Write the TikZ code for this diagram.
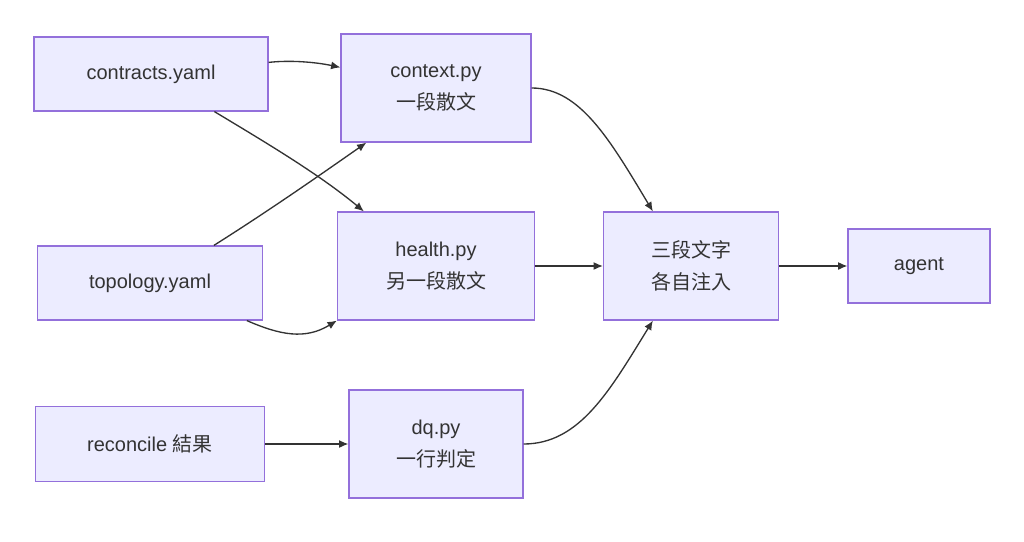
\documentclass[tikz,border=0pt]{standalone}
\usepackage{fontspec}
\setmainfont{Liberation Sans}
\newfontfamily\cjk{Noto Sans CJK TC}
\usetikzlibrary{calc,arrows.meta}
\definecolor{nfill}{HTML}{ECECFF}
\definecolor{nline}{HTML}{9370DB}
\definecolor{eline}{HTML}{333333}
\begin{document}
\begin{tikzpicture}[x=0.75pt,y=-0.75pt,
  box/.style={draw=nline,fill=nfill,line width=0.9pt,align=center,inner sep=0pt,font=\fontsize{15}{24}\selectfont,text=eline},
  edge/.style={draw=eline,line width=1pt,-{Latex[length=7pt,width=6pt]}}]
\useasboundingbox (0,0) rectangle (1024,542);
\node[box,minimum width=234*0.75pt,minimum height=74*0.75pt] (ct) at (151,74) {contracts.yaml};
\node[box,minimum width=190*0.75pt,minimum height=108*0.75pt] (cx) at (436,88) {context.py\\{\cjk 一段散文}};
\node[box,minimum width=225*0.75pt,minimum height=74*0.75pt] (tp) at (150,283) {topology.yaml};
\node[box,minimum width=197*0.75pt,minimum height=108*0.75pt] (hp) at (436,266) {health.py\\{\cjk 另一段散文}};
\node[box,minimum width=229*0.75pt,minimum height=75*0.75pt] (rc) at (150,444) {reconcile {\cjk 結果}};
\node[box,minimum width=174*0.75pt,minimum height=108*0.75pt] (dq) at (436,444) {dq.py\\{\cjk 一行判定}};
\node[box,minimum width=175*0.75pt,minimum height=108*0.75pt] (sd) at (691,266) {{\cjk 三段文字}\\{\cjk 各自注入}};
\node[box,minimum width=142*0.75pt,minimum height=74*0.75pt] (ag) at (919,266) {agent};
\draw[edge] ($(ct.north east)+(0,26)$) .. controls (290,60) and (315,62) .. ($(cx.north west)+(0,34)$);
\draw[edge] ($(ct.south west)+(181,0)$) .. controls (270,145) and (320,175) .. ($(hp.north west)+(27,0)$);
\draw[edge] ($(tp.north west)+(177,0)$) .. controls (270,210) and (320,175) .. ($(cx.south west)+(26,0)$);
\draw[edge] ($(tp.south west)+(210,0)$) .. controls (280,335) and (305,340) .. (hp.south west);
\draw[edge] (cx.east) .. controls (580,88) and (610,140) .. ($(sd.north west)+(50,0)$);
\draw[edge] (hp.east) -- (sd.west);
\draw[edge] (dq.east) .. controls (580,444) and (610,390) .. ($(sd.south west)+(50,0)$);
\draw[edge] (rc.east) -- (dq.west);
\draw[edge] (sd.east) -- (ag.west);
\end{tikzpicture}
\end{document}
